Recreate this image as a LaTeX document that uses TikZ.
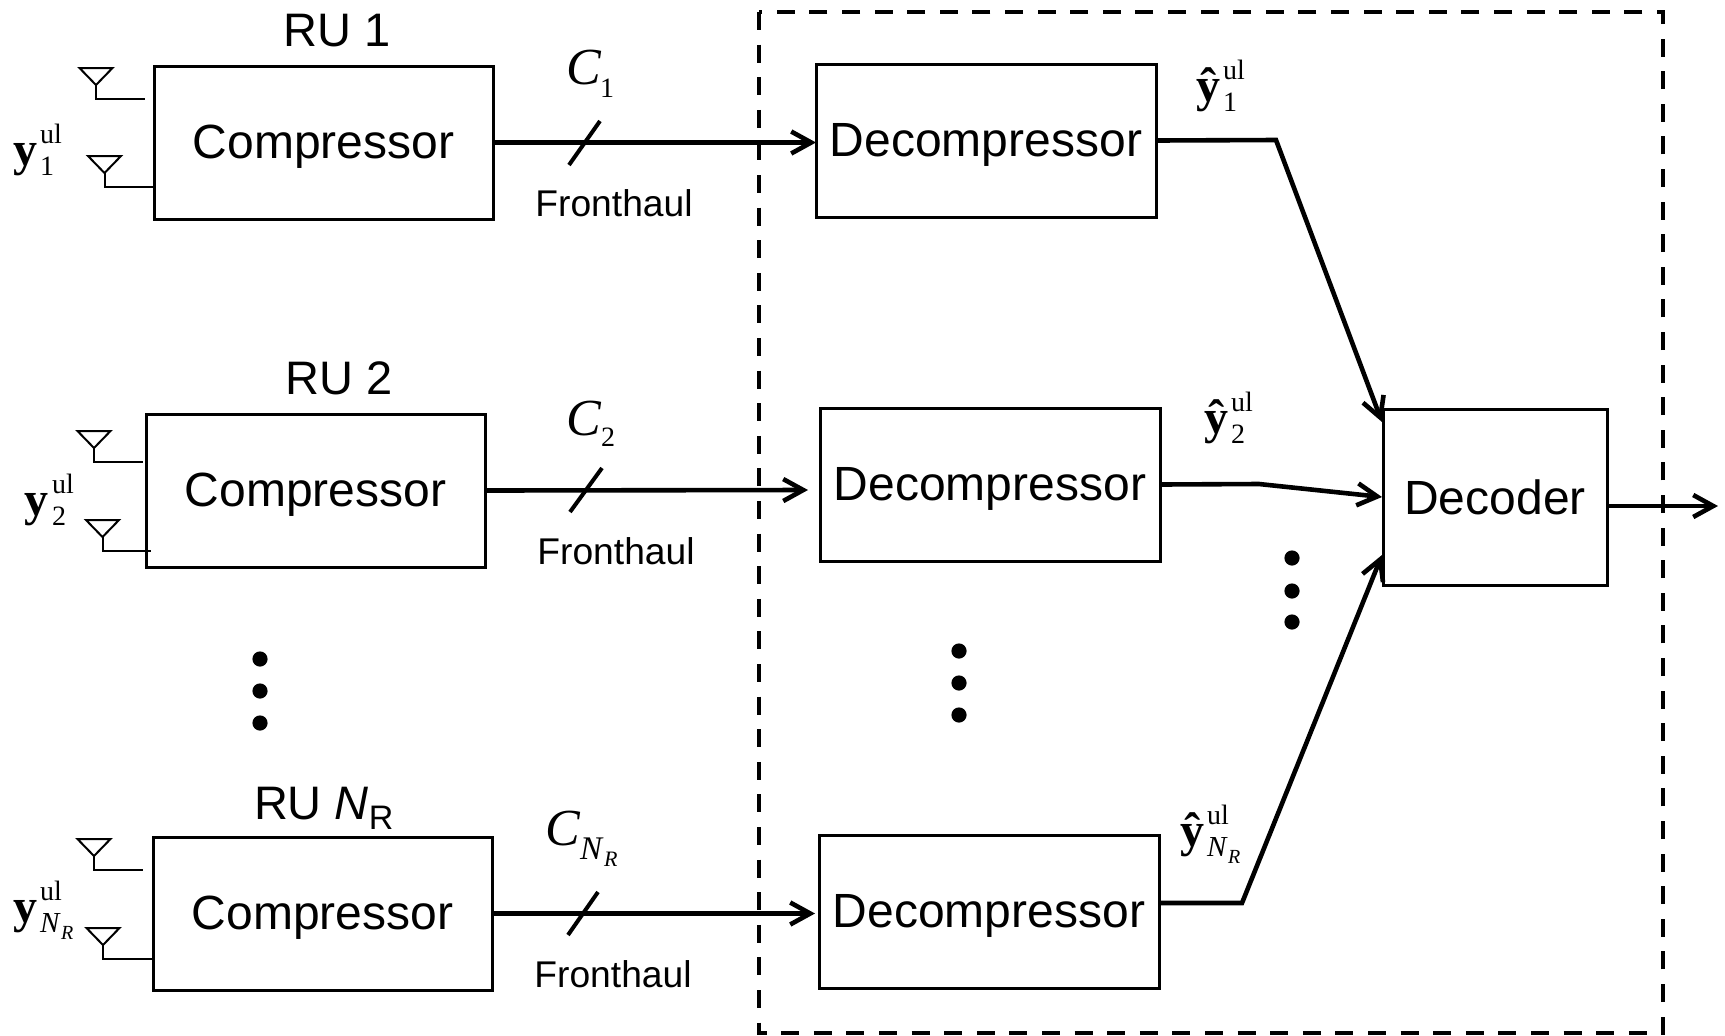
\documentclass[tikz,border=0pt]{standalone}
\usepackage{fontspec}
\setmainfont{Liberation Sans}
\newfontfamily\timesfont{Liberation Serif}
\usetikzlibrary{arrows.meta}
\newcommand{\fsize}[1]{\fontsize{#1}{#1}\selectfont}
% signal label: bold letter, ul on top, index below
\newcommand{\ullabel}[2]{{\timesfont\fsize{24}\bfseries #1}\kern1.5pt\rlap{\raisebox{11pt}{\timesfont\fsize{14}ul}}\raisebox{-5pt}{\timesfont\fsize{14}#2}}
\newcommand{\nrindex}[2]{{\fsize{#1}\textit{N}}\kern0.2pt\raisebox{-3.5pt}{\fsize{#2}\textit{R}}}
\tikzset{
  compbox/.style={draw,line width=1.5pt,inner sep=0pt,outer sep=0pt,minimum width=169.5pt,minimum height=76.5pt,text depth=0.6pt,font=\fsize{24}},
  decbox/.style={compbox,minimum width=170pt},
  txt/.style={inner sep=0pt,outer sep=0pt},
  base/.style={txt,anchor=base west},
  link/.style={line width=2.3pt,-{Straight Barb[length=10pt,width=11pt]}},
  slash/.style={line width=2pt},
  lead/.style={line width=1pt},
  vdot/.style={fill=black,draw=none}
}
\begin{document}
\begin{tikzpicture}[x=0.5pt,y=0.5pt,yscale=-1,xscale=1]
\useasboundingbox (0,0) rectangle (1725,1035);
% Dashed frame
\draw [line width=2pt,dash pattern=on 9pt off 7.3pt] (759,12) rectangle (1663,1033);
% Compressors
\node [compbox] (ru1) at (323.5,142.5) {Compressor};
\node [compbox] (ru2) at (315.5,490.5) {Compressor};
\node [compbox] (ru3) at (322.5,913.5) {Compressor};
% Decompressors
\node [decbox] (dec1) at (986,140.5) {Decompressor};
\node [decbox] (dec2) at (990,484.5) {Decompressor};
\node [decbox] (dec3) at (989,911.5) {Decompressor};
% Decoder
\node [compbox,minimum width=112pt,minimum height=88pt] (decoder) at (1495,497.5) {Decoder};
% Titles
\node [txt,font=\fsize{23.5}] (title1) at (337,31) {RU 1};
\node [txt,font=\fsize{23.5}] (title2) at (339,378) {RU 2};
\node [base,font=\fsize{23.5}] (title3) at (254,819) {RU \textit{N}\raisebox{-5pt}{\fsize{17}R}};
% Fronthaul
\node [txt,font=\fsize{18.6}] (fh1) at (614,203) {Fronthaul};
\node [txt,font=\fsize{18.6}] (fh2) at (616,551) {Fronthaul};
\node [txt,font=\fsize{18.6}] (fh3) at (613,974) {Fronthaul};
% Capacities
\node [base] (cap1) at (566,84) {{\timesfont\fsize{26}\textit{C}}\kern-0.5pt\raisebox{-6.5pt}{\timesfont\fsize{14}1}};
\node [base] (cap2) at (566,435) {{\timesfont\fsize{26}\textit{C}}\kern0pt\raisebox{-5.5pt}{\timesfont\fsize{14}2}};
\node [base] (cap3) at (545,845) {{\timesfont\fsize{26}\textit{C}}\kern0pt\raisebox{-7pt}{\timesfont\nrindex{16.5}{11}}};
% Signals
\node [base] (in1) at (13,165) {\ullabel{y}{1}};
\node [base] (in2) at (25,515) {\ullabel{y}{2}};
\node [base] (in3) at (13,922) {\ullabel{y}{\nrindex{14.5}{10}}};
\node [base] (out1) at (1196,101) {\ullabel{\^y}{1}};
\node [base] (out2) at (1204,433) {\ullabel{\^y}{2}};
\node [base] (out3) at (1180,846) {\ullabel{\^y}{\nrindex{14.5}{10}}};
% Antennas
\foreach \name/\px/\py/\pe in {a/96/85/145,b/104.5/173/154,c/94/448/143,d/102.5/537/151,e/94/856/143,f/103/945/152}{
  \coordinate (\name) at (\px,\py);
  \coordinate (\name end) at (\pe,\py+14);
  \draw [lead] (\name) -- ++(-16.5,-17) -- ++(33,0) -- cycle;
  \draw [lead] (\name) -- (\name |- \name end) -- (\name end);
}
% Fronthaul links
\coordinate (tip2) at (808,490);
\coordinate (tip3) at (815,913.5);
\draw [link] (ru1.east) -- (ru1.east -| dec1.west);
\draw [link] (ru2.east) -- (tip2);
\draw [link] (ru3.east) -- (tip3);
% Slashes
\coordinate (s1a) at (600,121); \coordinate (s1b) at (569,165);
\coordinate (s2a) at (602,468); \coordinate (s2b) at (570,512);
\coordinate (s3a) at (598,892); \coordinate (s3b) at (568,935);
\draw [slash] (s1a) -- (s1b);
\draw [slash] (s2a) -- (s2b);
\draw [slash] (s3a) -- (s3b);
% To the decoder
\coordinate (k1) at (1276,140); \coordinate (t1) at (1382,422);
\coordinate (k2) at (1259,484); \coordinate (t2) at (1382,497);
\coordinate (k3) at (1242,903); \coordinate (t3) at (1382,555);
\coordinate (o1) at (1718,506);
\draw [link] (dec1.east) -- (k1) -- (t1);
\draw [link] (dec2.east) -- (k2) -- (t2);
\draw [link] (dec3.east |- k3) -- (k3) -- (t3);
\draw [link] (decoder.east |- o1) -- (o1);
% Dots
\foreach \dx/\dy in {260/659,260/691,260/723,959/651,959/683,959/715,1292/558,1292/591,1292/622}{
  \fill [vdot] (\dx,\dy) circle (3.8pt);
}
\end{tikzpicture}
\end{document}
